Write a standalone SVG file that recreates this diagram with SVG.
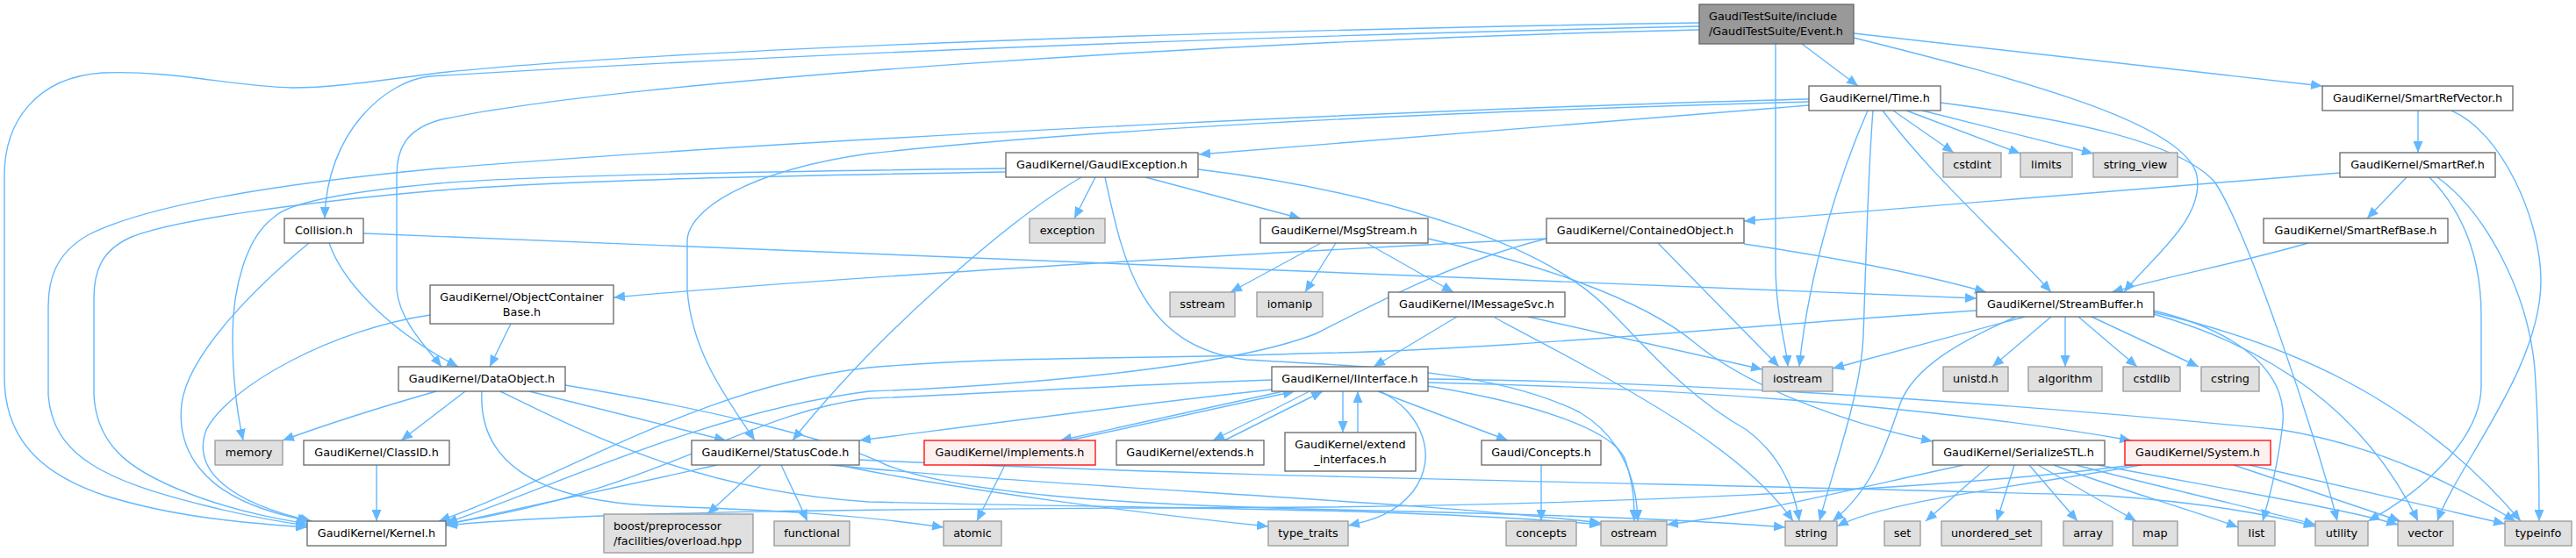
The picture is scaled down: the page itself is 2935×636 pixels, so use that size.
<svg xmlns="http://www.w3.org/2000/svg" width="2935" height="636" viewBox="0 0 2935 636">
<style>
.e{fill:none;stroke:#63b8ff;stroke-width:1.4;marker-end:url(#a)}
.n rect{fill:#ffffff;stroke:#666666;stroke-width:1.3}
.x rect{fill:#e0e0e0;stroke:#999999;stroke-width:1.3}
.r rect{fill:#fff0f0;stroke:#ff0000;stroke-width:1.3}
.root rect{fill:#999999;stroke:#666666;stroke-width:1.3}
text{font-family:"DejaVu Sans","Liberation Sans",sans-serif;font-size:12.8px;fill:#000000;text-anchor:middle}
text.l{text-anchor:start}
</style>
<defs>
<marker id="a" markerUnits="userSpaceOnUse" markerWidth="14" markerHeight="11" refX="13" refY="5.5" orient="auto"><path d="M0,0L13,5.5L0,11z" fill="#63b8ff"/></marker>
</defs>
<rect width="2935" height="636" fill="#ffffff"/>
<g id="edges">
<path class="e" d="M2053,50 L2117,98"/>
<path class="e" d="M2023,50 L2023,300 C2023,360 2035,390 2037,418"/>
<path class="e" d="M2112,43 C2300,90 2490,140 2503,200 C2512,250 2450,295 2420,333"/>
<path class="e" d="M2112,38 L2646,98"/>
<path class="e" d="M1936,30 C1400,42 900,62 490,87 C440,92 372,150 370,249"/>
<path class="e" d="M1936,34 C1400,46 700,92 500,137 C462,148 452,170 452,200 L452,330 C455,365 485,395 503,418"/>
<path class="e" d="M1936,26 C1200,38 700,62 500,83 C430,92 380,100 333,100 C260,98 200,80 117,83 C40,88 5,140 5,200 L5,430 C5,510 60,545 120,565 C200,590 280,596 350,601"/>
<path class="e" d="M2061,120 L1366,176"/>
<path class="e" d="M2061,113 C1700,122 1000,152 500,192 C330,208 170,232 100,268 C62,290 55,320 55,350 L55,450 C60,520 120,548 233,576 C280,588 320,595 350,599"/>
<path class="e" d="M2061,116 C1700,126 1300,142 990,175 C850,195 783,240 783,275 L783,330 C788,400 825,450 860,502"/>
<path class="e" d="M2157,126 L2226,174"/>
<path class="e" d="M2172,126 L2302,175"/>
<path class="e" d="M2190,126 L2385,175"/>
<path class="e" d="M2128,126 C2100,190 2062,300 2050,418"/>
<path class="e" d="M2134,126 C2128,200 2125,330 2123,383 C2120,450 2090,530 2073,594"/>
<path class="e" d="M2145,126 C2200,200 2280,270 2337,333"/>
<path class="e" d="M2211,117 C2350,135 2480,160 2523,207 C2560,260 2640,500 2663,594"/>
<path class="e" d="M1248,202 L1224,249"/>
<path class="e" d="M1305,202 L1482,249"/>
<path class="e" d="M1232,202 C1150,250 1000,380 903,502"/>
<path class="e" d="M1259,202 C1280,300 1300,395 1420,410 C1550,418 1700,420 1800,470 C1850,500 1865,550 1866,594"/>
<path class="e" d="M1365,193 C1550,215 1750,270 1830,350 C1880,400 1920,450 1990,490 C2030,520 2045,560 2050,594"/>
<path class="e" d="M1146,192 C900,195 600,200 500,209 C400,218 330,230 313,247 C280,270 265,330 265,383 C265,430 270,470 277,502"/>
<path class="e" d="M1146,196 C900,200 650,205 500,217 C350,230 200,250 150,270 C115,285 107,310 107,340 L107,450 C110,510 150,540 233,569 C280,585 320,592 350,597"/>
<path class="e" d="M375,277 C390,320 440,375 522,418"/>
<path class="e" d="M352,277 C300,320 215,400 207,460 C200,520 240,560 300,580 C320,587 335,590 352,594"/>
<path class="e" d="M414,266 C700,278 1400,305 2252,340"/>
<path class="e" d="M582,369 L558,418"/>
<path class="e" d="M490,359 C380,375 260,440 235,490 C220,530 250,570 355,594"/>
<path class="e" d="M497,446 C420,468 360,488 322,502"/>
<path class="e" d="M530,446 L457,502"/>
<path class="e" d="M603,446 L827,502"/>
<path class="e" d="M644,439 C800,465 950,500 1010,530 C1100,565 1300,575 1480,580 C1700,585 1900,590 2034,601"/>
<path class="e" d="M570,446 C680,500 800,560 990,572 C1300,580 1600,578 1824,598"/>
<path class="e" d="M549,446 C545,520 600,572 757,577 C850,581 950,583 1075,601"/>
<path class="e" d="M429,530 L429,594"/>
<path class="e" d="M867,530 L806,586"/>
<path class="e" d="M890,530 L920,594"/>
<path class="e" d="M817,530 L508,598"/>
<path class="e" d="M946,530 C1200,555 1600,570 1824,596"/>
<path class="e" d="M955,530 C1100,560 1300,585 1445,600"/>
<path class="e" d="M979,524 C1400,545 2000,552 2400,565 C2500,572 2580,585 2638,600"/>
<path class="e" d="M1449,444 C1300,460 1150,480 979,502"/>
<path class="e" d="M1449,433 C1250,440 1100,450 990,454 C850,470 750,560 508,597"/>
<path class="e" d="M1530,446 L1530,493"/>
<path class="e" d="M1547,493 L1547,446"/>
<path class="e" d="M1218,502 L1475,446"/>
<path class="e" d="M1462,446 L1208,502"/>
<path class="e" d="M1395,502 L1507,446"/>
<path class="e" d="M1492,446 L1382,502"/>
<path class="e" d="M1570,446 L1718,502"/>
<path class="e" d="M1573,446 C1620,470 1640,520 1610,560 C1590,585 1565,593 1536,599"/>
<path class="e" d="M1627,440 C1750,460 1840,490 1852,525 C1862,555 1862,575 1862,594"/>
<path class="e" d="M1627,436 C1900,442 2200,462 2428,502"/>
<path class="e" d="M1627,432 C2000,436 2400,470 2600,490 C2720,510 2810,560 2866,594"/>
<path class="e" d="M1756,530 L1756,594"/>
<path class="e" d="M1145,530 L1113,594"/>
<path class="e" d="M1505,277 L1402,333"/>
<path class="e" d="M1522,277 L1487,333"/>
<path class="e" d="M1557,277 L1656,333"/>
<path class="e" d="M1627,272 C1750,300 1870,340 1930,390 C1990,440 2100,482 2202,503"/>
<path class="e" d="M1660,361 L1565,418"/>
<path class="e" d="M1703,362 C1850,440 1985,510 2043,594"/>
<path class="e" d="M1741,361 L2008,421"/>
<path class="e" d="M1762,272 C1500,285 1000,312 699,339"/>
<path class="e" d="M1889,277 L2027,418"/>
<path class="e" d="M1987,278 C2100,295 2200,315 2263,333"/>
<path class="e" d="M1762,272 C1650,300 1560,350 1500,380 C1400,420 1150,440 990,446 C800,470 620,560 508,596"/>
<path class="e" d="M2755,126 L2755,174"/>
<path class="e" d="M2793,126 C2850,150 2895,250 2895,320 C2895,420 2800,530 2777,594"/>
<path class="e" d="M2666,197 L1987,252"/>
<path class="e" d="M2742,202 L2697,249"/>
<path class="e" d="M2768,202 C2810,245 2827,300 2827,360 L2827,440 C2827,500 2760,560 2698,594"/>
<path class="e" d="M2777,202 C2830,240 2880,330 2888,420 C2892,480 2893,550 2893,594"/>
<path class="e" d="M2630,277 C2550,300 2470,315 2406,333"/>
<path class="e" d="M2307,361 L2088,420"/>
<path class="e" d="M2337,361 L2270,418"/>
<path class="e" d="M2353,361 L2353,418"/>
<path class="e" d="M2368,361 L2435,418"/>
<path class="e" d="M2383,361 L2505,418"/>
<path class="e" d="M2297,361 C2230,390 2180,420 2165,460 C2145,520 2130,560 2088,594"/>
<path class="e" d="M2454,354 C2560,380 2610,430 2600,490 C2595,530 2585,570 2578,594"/>
<path class="e" d="M2454,358 C2600,400 2700,480 2755,594"/>
<path class="e" d="M2454,356 C2600,390 2750,450 2872,594"/>
<path class="e" d="M2252,354 C2000,370 1700,400 1480,403 C1300,410 1150,405 990,419 C800,440 650,540 500,594"/>
<path class="e" d="M2237,530 C2100,560 2000,585 1899,598"/>
<path class="e" d="M2267,530 L2194,594"/>
<path class="e" d="M2295,530 L2275,594"/>
<path class="e" d="M2312,530 L2367,594"/>
<path class="e" d="M2322,530 L2434,594"/>
<path class="e" d="M2340,530 C2420,560 2500,582 2550,601"/>
<path class="e" d="M2365,530 C2480,560 2580,582 2638,598"/>
<path class="e" d="M2390,530 C2550,560 2680,582 2732,598"/>
<path class="e" d="M2440,530 C2300,555 2150,570 2093,600"/>
<path class="e" d="M2430,530 C2200,560 1800,575 1500,578 C1100,580 700,580 508,599"/>
<path class="e" d="M2545,530 L2735,594"/>
<path class="e" d="M2563,530 L2854,597"/>
</g>
<g id="root" class="root"><rect x="1936" y="5" width="176" height="45"/><text class="l" x="1947" y="23.3">GaudiTestSuite/include</text><text class="l" x="1947" y="40">/GaudiTestSuite/Event.h</text></g>
<g id="time" class="n"><rect x="2061" y="98" width="150" height="28"/><text x="2136" y="116.3">GaudiKernel/Time.h</text></g>
<g id="gaudiexception" class="n"><rect x="1146" y="174" width="219" height="28"/><text x="1255.5" y="192.3">GaudiKernel/GaudiException.h</text></g>
<g id="exception" class="x"><rect x="1173" y="249" width="86" height="28"/><text x="1216" y="267.3">exception</text></g>
<g id="msgstream" class="n"><rect x="1436" y="249" width="191" height="28"/><text x="1531.5" y="267.3">GaudiKernel/MsgStream.h</text></g>
<g id="containedobject" class="n"><rect x="1762" y="249" width="225" height="28"/><text x="1874.5" y="267.3">GaudiKernel/ContainedObject.h</text></g>
<g id="cstdint" class="x"><rect x="2214" y="174" width="66" height="28"/><text x="2247" y="192.3">cstdint</text></g>
<g id="limits" class="x"><rect x="2302" y="174" width="59" height="28"/><text x="2331.5" y="192.3">limits</text></g>
<g id="string_view" class="x"><rect x="2385" y="174" width="96" height="28"/><text x="2433" y="192.3">string_view</text></g>
<g id="smartrefvector" class="n"><rect x="2646" y="98" width="217" height="28"/><text x="2754.5" y="116.3">GaudiKernel/SmartRefVector.h</text></g>
<g id="smartref" class="n"><rect x="2666" y="174" width="177" height="28"/><text x="2754.5" y="192.3">GaudiKernel/SmartRef.h</text></g>
<g id="smartrefbase" class="n"><rect x="2579" y="249" width="210" height="28"/><text x="2684" y="267.3">GaudiKernel/SmartRefBase.h</text></g>
<g id="collision" class="n"><rect x="324" y="249" width="90" height="28"/><text x="369" y="267.3">Collision.h</text></g>
<g id="objectcontainerbase" class="n"><rect x="490" y="325" width="209" height="44"/><text x="594.5" y="343.3">GaudiKernel/ObjectContainer</text><text x="594.5" y="360">Base.h</text></g>
<g id="dataobject" class="n"><rect x="454" y="418" width="190" height="28"/><text x="549" y="436.3">GaudiKernel/DataObject.h</text></g>
<g id="memory" class="x"><rect x="245" y="502" width="77" height="28"/><text x="283.5" y="520.3">memory</text></g>
<g id="classid" class="n"><rect x="346" y="502" width="166" height="28"/><text x="429" y="520.3">GaudiKernel/ClassID.h</text></g>
<g id="kernel" class="n"><rect x="350" y="594" width="158" height="28"/><text x="429" y="612.3">GaudiKernel/Kernel.h</text></g>
<g id="boost" class="x"><rect x="688" y="586" width="170" height="44"/><text class="l" x="699" y="604.3">boost/preprocessor</text><text class="l" x="699" y="621">/facilities/overload.hpp</text></g>
<g id="statuscode" class="n"><rect x="788" y="502" width="191" height="28"/><text x="883.5" y="520.3">GaudiKernel/StatusCode.h</text></g>
<g id="functional" class="x"><rect x="882" y="594" width="86" height="28"/><text x="925" y="612.3">functional</text></g>
<g id="sstream" class="x"><rect x="1333" y="333" width="74" height="28"/><text x="1370" y="351.3">sstream</text></g>
<g id="iomanip" class="x"><rect x="1432" y="333" width="75" height="28"/><text x="1469.5" y="351.3">iomanip</text></g>
<g id="iinterface" class="n"><rect x="1449" y="418" width="178" height="28"/><text x="1538" y="436.3">GaudiKernel/IInterface.h</text></g>
<g id="implements" class="r"><rect x="1053" y="502" width="195" height="28"/><text x="1150.5" y="520.3">GaudiKernel/implements.h</text></g>
<g id="extends" class="n"><rect x="1272" y="502" width="168" height="28"/><text x="1356" y="520.3">GaudiKernel/extends.h</text></g>
<g id="extend_interfaces" class="n"><rect x="1464" y="493" width="149" height="44"/><text x="1538.5" y="511.3">GaudiKernel/extend</text><text x="1538.5" y="528">_interfaces.h</text></g>
<g id="atomic" class="x"><rect x="1075" y="594" width="66" height="28"/><text x="1108" y="612.3">atomic</text></g>
<g id="type_traits" class="x"><rect x="1445" y="594" width="91" height="28"/><text x="1490.5" y="612.3">type_traits</text></g>
<g id="imessagesvc" class="n"><rect x="1582" y="333" width="201" height="28"/><text x="1682.5" y="351.3">GaudiKernel/IMessageSvc.h</text></g>
<g id="concepts_h" class="n"><rect x="1688" y="502" width="136" height="28"/><text x="1756" y="520.3">Gaudi/Concepts.h</text></g>
<g id="concepts" class="x"><rect x="1716" y="594" width="80" height="28"/><text x="1756" y="612.3">concepts</text></g>
<g id="ostream" class="x"><rect x="1824" y="594" width="75" height="28"/><text x="1861.5" y="612.3">ostream</text></g>
<g id="streambuffer" class="n"><rect x="2252" y="333" width="202" height="28"/><text x="2353" y="351.3">GaudiKernel/StreamBuffer.h</text></g>
<g id="iostream" class="x"><rect x="2008" y="418" width="80" height="28"/><text x="2048" y="436.3">iostream</text></g>
<g id="unistd" class="x"><rect x="2214" y="418" width="74" height="28"/><text x="2251" y="436.3">unistd.h</text></g>
<g id="algorithm" class="x"><rect x="2311" y="418" width="84" height="28"/><text x="2353" y="436.3">algorithm</text></g>
<g id="cstdlib" class="x"><rect x="2419" y="418" width="65" height="28"/><text x="2451.5" y="436.3">cstdlib</text></g>
<g id="cstring" class="x"><rect x="2508" y="418" width="66" height="28"/><text x="2541" y="436.3">cstring</text></g>
<g id="serializestl" class="n"><rect x="2202" y="502" width="196" height="28"/><text x="2300" y="520.3">GaudiKernel/SerializeSTL.h</text></g>
<g id="system" class="r"><rect x="2421" y="502" width="166" height="28"/><text x="2504" y="520.3">GaudiKernel/System.h</text></g>
<g id="string" class="x"><rect x="2034" y="594" width="59" height="28"/><text x="2063.5" y="612.3">string</text></g>
<g id="set" class="x"><rect x="2147" y="594" width="41" height="28"/><text x="2167.5" y="612.3">set</text></g>
<g id="unordered_set" class="x"><rect x="2212" y="594" width="114" height="28"/><text x="2269" y="612.3">unordered_set</text></g>
<g id="array" class="x"><rect x="2351" y="594" width="56" height="28"/><text x="2379" y="612.3">array</text></g>
<g id="map" class="x"><rect x="2430" y="594" width="51" height="28"/><text x="2455.5" y="612.3">map</text></g>
<g id="list" class="x"><rect x="2550" y="594" width="42" height="28"/><text x="2571" y="612.3">list</text></g>
<g id="utility" class="x"><rect x="2638" y="594" width="60" height="28"/><text x="2668" y="612.3">utility</text></g>
<g id="vector" class="x"><rect x="2732" y="594" width="63" height="28"/><text x="2763.5" y="612.3">vector</text></g>
<g id="typeinfo" class="x"><rect x="2854" y="594" width="76" height="28"/><text x="2892" y="612.3">typeinfo</text></g>
</svg>
